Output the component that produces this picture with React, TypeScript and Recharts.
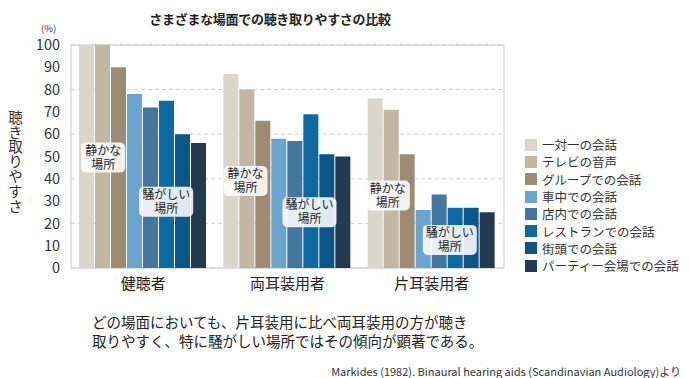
import { BarChart, Bar, XAxis, YAxis, CartesianGrid, ReferenceArea, ReferenceDot } from "recharts"

const groups = ["健聴者", "両耳装用者", "片耳装用者"]

const seriesNames = [
    "一対一の会話",
    "テレビの音声",
    "グループでの会話",
    "車中での会話",
    "店内での会話",
    "レストランでの会話",
    "街頭での会話",
    "パーティー会場での会話",
]

const oneOnOne = [100, 87, 76]
const tvSound = [100, 80, 71]
const groupTalk = [90, 66, 51]
const inCar = [78, 58, 26]
const inShop = [72, 57, 33]
const restaurant = [75, 69, 27]
const street = [60, 51, 27]
const party = [56, 50, 25]

const yTicks = [0, 10, 20, 30, 40, 50, 60, 70, 80, 90, 100]

const colors = ["#dcd5c9", "#c3b6a3", "#9e8b73", "#6aa5cf", "#44779f", "#0c6aa1", "#0a5689", "#243a4f"]

const allSeries = [oneOnOne, tvSound, groupTalk, inCar, inShop, restaurant, street, party]

const data = groups.map((g, i) => {
    const row: any = { name: g }
    seriesNames.forEach((s, j) => { row[s] = allSeries[j][i] })
    return row
})

// annotation boxes ("静かな場所" / "騒がしい場所"), y in chart units
const quietY = [49.5, 39, 32.5]
const noisyY = [29.7, 25, 12.6]

const font = "'Noto Sans CJK JP', sans-serif"

const makeBox = (dx: number, w: number, line1: string, line2: string) => (props: any) => {
    const { cx, cy } = props
    const x = cx + dx
    return (
        <g>
            <rect x={x - w / 2} y={cy - 15} width={w} height={30} rx={5} fill="#ffffff" fillOpacity={0.88} />
            <text x={x} y={cy - 3} textAnchor="middle" fontSize={12} fill="#222" fontFamily={font}>{line1}</text>
            <text x={x} y={cy + 11} textAnchor="middle" fontSize={12} fill="#222" fontFamily={font}>{line2}</text>
        </g>
    )
}

const quietDx = [-40, -42, -44]
const noisyDx = [23, 22, 18]

const App = () => {
    return (
        <div style={{ position: "absolute", left: 0, top: 0, width: 689, height: 378, background: "#fff", fontFamily: font }}>
            <div style={{ position: "absolute", left: 0, width: 540, top: 9, textAlign: "center", fontSize: 13, fontWeight: 700, color: "#222", letterSpacing: -0.3 }}>
                さまざまな場面での聴き取りやすさの比較
            </div>
            <div style={{ position: "absolute", left: 41, top: 22, fontSize: 9.5, lineHeight: "12px", color: "#333" }}>(%)</div>
            <div style={{ position: "absolute", left: 5, top: 110, fontSize: 14.5, color: "#333", writingMode: "vertical-rl", letterSpacing: 0.3 }}>
                聴き取りやすさ
            </div>
            <BarChart width={689} height={378} data={data}
                margin={{ top: 45, right: 185, bottom: 80, left: 0 }}
                barCategoryGap={8} barGap={1}>
                <CartesianGrid vertical={false} strokeDasharray="4 3" stroke="#cfcfcf" />
                <ReferenceArea y1={0} y2={100} fill="none" stroke="#c8c8c8" strokeWidth={1} ifOverflow="visible" />
                <XAxis dataKey="name" height={30} axisLine={false} tickLine={false} tickMargin={4}
                    tick={{ fontSize: 15, fill: "#222", fontFamily: font }} />
                <YAxis width={71} domain={[0, 100]} ticks={yTicks} axisLine={false} tickLine={false} tickMargin={5}
                    tick={{ fontSize: 14.5, fill: "#333", fontFamily: font }} />
                {seriesNames.map((s, i) => (
                    <Bar key={s} dataKey={s} fill={colors[i]} isAnimationActive={false} />
                ))}
                {groups.map((g, i) => (
                    <ReferenceDot key={"q" + g} x={g} y={quietY[i]} ifOverflow="visible"
                        shape={makeBox(quietDx[i], 44, "静かな", "場所")} />
                ))}
                {groups.map((g, i) => (
                    <ReferenceDot key={"n" + g} x={g} y={noisyY[i]} ifOverflow="visible"
                        shape={makeBox(noisyDx[i], 54, "騒がしい", "場所")} />
                ))}
            </BarChart>
            <div style={{ position: "absolute", left: 525, top: 136 }}>
                {seriesNames.map((s, i) => (
                    <div key={s} style={{ display: "flex", alignItems: "center", height: 17.3 }}>
                        <span style={{ display: "inline-block", width: 12, height: 12, background: colors[i], marginRight: 5 }} />
                        <span style={{ fontSize: 12.5, color: "#333", whiteSpace: "nowrap" }}>{s}</span>
                    </div>
                ))}
            </div>
            <div style={{ position: "absolute", left: 92, top: 313, fontSize: 14.5, lineHeight: "18.5px", color: "#222" }}>
                どの場面においても、片耳装用に比べ両耳装用の方が聴き<br />
                取りやすく、特に騒がしい場所ではその傾向が顕著である。
            </div>
            <div style={{ position: "absolute", right: 8, top: 363, fontSize: 11, color: "#333", whiteSpace: "nowrap" }}>
                Markides (1982). Binaural hearing aids (Scandinavian Audiology)より
            </div>
        </div>
    )
}

export default App
